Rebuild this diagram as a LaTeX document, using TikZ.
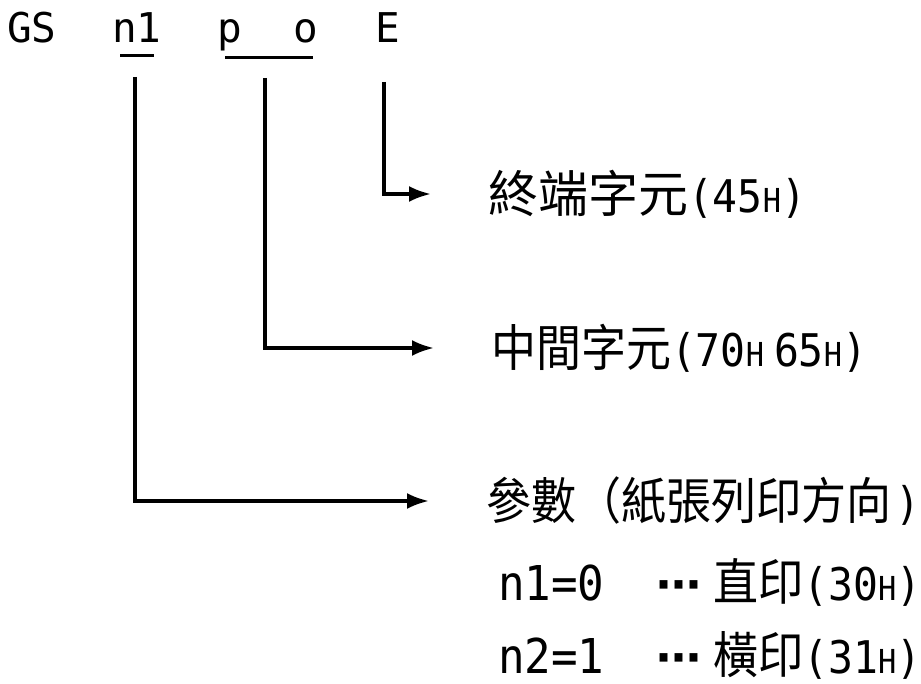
\documentclass[tikz,border=0pt]{standalone}
\usepackage{fontspec}
\setmainfont{DejaVu Sans Mono}
\newfontfamily\latnar[FakeStretch=0.92]{DejaVu Sans Mono}
\newfontfamily\cjk[FakeStretch=0.9]{Noto Sans CJK TC}
\newfontfamily\cjkwide{Noto Sans CJK TC}
\newfontfamily\dotsfont{DejaVu Sans Bold}
\usetikzlibrary{arrows.meta}
\newcommand{\hsmall}{{\fontsize{33}{33}\selectfont H}}
\newcommand{\zhtxt}[1]{{\cjk\fontsize{50}{52}\selectfont #1}}
\newcommand{\zhwide}[1]{{\cjkwide\fontsize{50}{52}\selectfont #1}}

\begin{document}
\begin{tikzpicture}[x=1pt, y=-1pt,
  every node/.style={inner sep=0pt, outer sep=0pt},
  code/.style={anchor=base west, font=\fontsize{41}{44}\selectfont},
  lbl/.style={anchor=west, font=\latnar\fontsize{45}{48}\selectfont},
  uline/.style={line width=3pt},
  lead/.style={line width=3.5pt, -{Latex[length=22pt,width=16pt]}, shorten >=57pt}]

	\useasboundingbox (0,0) rectangle (921,684);

	% command line
	\node[code] (gs) at (7,43) {GS};
	\node[code] (n1) at (112,43) {n1};
	\node[code] (p) at (217,43) {p};
	\node[code] (o) at (293,43) {o};
	\node[code] (E) at (375,43) {E};
	\draw[uline] (120,56) -- (154,56);
	\draw[uline] (225,58) -- (313,58);

	% labels
	\node[lbl] (lblE) at (488,194) {\zhwide{終端字元}(45\hsmall)};
	\node[lbl] (lblPO) at (491,348) {\zhtxt{中間字元}(70\hsmall\hspace{10pt}65\hsmall)};
	\node[lbl] (lblN) at (486,501) {\zhtxt{參數（紙張列印方向}\hspace{4pt})};
	\node[lbl] (lblN1) at (498,582) {{\fontsize{48}{50}\selectfont n1=0}\hspace{52pt}{\dotsfont ⋯}\hspace{12pt}\zhtxt{直印}(30\hsmall)};
	\node[lbl] (lblN2) at (498,655) {{\fontsize{48}{50}\selectfont n2=1}\hspace{52pt}{\dotsfont ⋯}\hspace{12pt}\zhtxt{橫印}(31\hsmall)};

	% leads
	\coordinate (n1foot) at (135,77);
	\coordinate (pofoot) at (265,78);
	\coordinate (Efoot) at (384,82);
	\draw[lead] (Efoot) |- (lblE.west);
	\draw[lead] (pofoot) |- (lblPO.west);
	\draw[lead] (n1foot) |- (lblN.west);
\end{tikzpicture}
\end{document}
